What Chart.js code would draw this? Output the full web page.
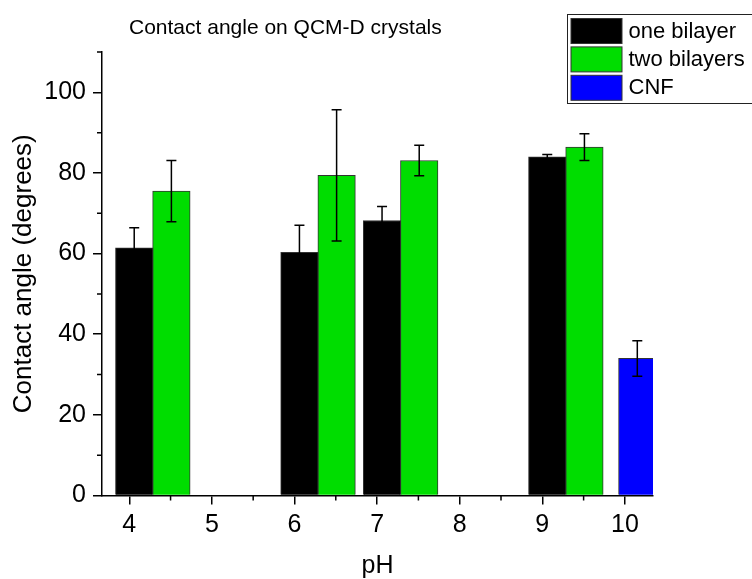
<!DOCTYPE html>
<html>
<head>
<meta charset="utf-8">
<script src="https://cdn.jsdelivr.net/npm/chart.js@4"></script>
<style>
  html, body { margin: 0; padding: 0; background: #fff; }
</style>
</head>
<body>
<canvas id="angleChart" width="752" height="579"></canvas>
<script>
// contact angle per pH, mean and standard deviation
const phOne = [4, 6, 7, 9];
const angleOne = [61.4, 60.3, 68.2, 84.0];
const errOne = [5.0, 6.7, 3.5, 0.6];

const phTwo = [4, 6, 7, 9];
const angleTwo = [75.5, 79.4, 83.1, 86.4];
const errTwo = [7.6, 16.3, 3.8, 3.3];

const phCnf = [10];
const angleCnf = [34.0];
const errCnf = [4.4];

const xTicks = [4, 5, 6, 7, 8, 9, 10];
const yTicks = [0, 20, 40, 60, 80, 100];

const FONT = 'Arial, "Liberation Sans", sans-serif';

// columns sit a little right of their pH value, second column next to the first
function toPoints(ph, vals, shift) {
  return ph.map((p, i) => ({ x: p + shift, y: vals[i] }));
}

const errorBars = {
  id: 'errorBars',
  afterDatasetsDraw(chart) {
    const ctx = chart.ctx;
    const ys = chart.scales.y;
    ctx.save();
    ctx.strokeStyle = '#000';
    ctx.lineWidth = 1.5;
    chart.data.datasets.forEach((ds, i) => {
      chart.getDatasetMeta(i).data.forEach((bar, j) => {
        const v = ds.data[j].y, e = ds.errors[j];
        const top = ys.getPixelForValue(v + e);
        const bot = ys.getPixelForValue(v - e);
        const x = bar.x;
        ctx.beginPath();
        ctx.moveTo(x, top); ctx.lineTo(x, bot);
        ctx.moveTo(x - 5, top); ctx.lineTo(x + 5, top);
        ctx.moveTo(x - 5, bot); ctx.lineTo(x + 5, bot);
        ctx.stroke();
      });
    });
    ctx.restore();
  }
};

const extras = {
  id: 'extras',
  afterDraw(chart) {
    const ctx = chart.ctx;
    const xs = chart.scales.x, ys = chart.scales.y;
    const area = chart.chartArea;
    ctx.save();

    // minor ticks
    ctx.strokeStyle = '#000';
    ctx.lineWidth = 1.5;
    ctx.beginPath();
    [10, 30, 50, 70, 90, 110].forEach(v => {
      const py = ys.getPixelForValue(v);
      ctx.moveTo(area.left - 5, py); ctx.lineTo(area.left, py);
    });
    [4.5, 5.5, 6.5, 7.5, 8.5, 9.5].forEach(v => {
      const px = xs.getPixelForValue(v);
      ctx.moveTo(px, area.bottom); ctx.lineTo(px, area.bottom + 5);
    });
    ctx.stroke();

    // title
    ctx.fillStyle = '#000';
    ctx.font = '21px ' + FONT;
    ctx.textBaseline = 'middle';
    ctx.textAlign = 'left';
    ctx.fillText('Contact angle on QCM-D crystals', 129, 28);

    // legend box
    const lx = 567.5, ly = 14.5, rowH = 28.4;
    ctx.strokeStyle = '#222';
    ctx.lineWidth = 1;
    ctx.strokeRect(lx, ly, 200, 89);
    ctx.font = '22px ' + FONT;
    chart.data.datasets.forEach((ds, i) => {
      const ry = ly + 4 + i * rowH;
      ctx.fillStyle = ds.backgroundColor;
      ctx.fillRect(lx + 3.5, ry, 51, 25);
      ctx.strokeStyle = '#333';
      ctx.strokeRect(lx + 3.5, ry, 51, 25);
      ctx.fillStyle = '#000';
      ctx.fillText(ds.label, lx + 61, ry + 13);
    });
    ctx.restore();
  }
};

new Chart(document.getElementById('angleChart'), {
  type: 'bar',
  data: {
    datasets: [
      { label: 'one bilayer', data: toPoints(phOne, angleOne, 0.06), errors: errOne,
        backgroundColor: '#000000', borderColor: '#333333' },
      { label: 'two bilayers', data: toPoints(phTwo, angleTwo, 0.51), errors: errTwo,
        backgroundColor: '#00dd00', borderColor: '#333333' },
      { label: 'CNF', data: toPoints(phCnf, angleCnf, 0.15), errors: errCnf,
        backgroundColor: '#0000ff', borderColor: '#333333' }
    ]
  },
  options: {
    responsive: false,
    animation: false,
    layout: { padding: { top: 52, right: 99, left: 0, bottom: 0 } },
    datasets: { bar: { grouped: false, barThickness: 37.5, borderWidth: 1 } },
    plugins: { legend: { display: false }, title: { display: false }, tooltip: { enabled: false } },
    scales: {
      x: {
        type: 'linear',
        min: 3.67, max: 10.34,
        offset: false,
        afterFit: s => { s.height = 83.5; },
        afterBuildTicks: s => { s.ticks = xTicks.map(v => ({ value: v })); },
        grid: { drawOnChartArea: false, offset: false, color: '#000', lineWidth: 1.5, tickLength: 9 },
        border: { color: '#000', width: 1.5 },
        ticks: { color: '#000', padding: 6, maxRotation: 0, font: { family: FONT, size: 25 } },
        title: { display: true, text: 'pH', color: '#000',
                 font: { family: FONT, size: 25, lineHeight: 1 }, padding: { top: 0, bottom: 0 } }
      },
      y: {
        min: 0, max: 110,
        afterFit: s => { s.width = 102; },
        afterBuildTicks: s => { s.ticks = yTicks.map(v => ({ value: v })); },
        grid: { drawOnChartArea: false, color: '#000', lineWidth: 1.5, tickLength: 9 },
        border: { color: '#000', width: 1.5 },
        ticks: { color: '#000', padding: 7, font: { family: FONT, size: 25 } },
        title: { display: true, text: 'Contact angle (degrees)', color: '#000',
                 font: { family: FONT, size: 26, lineHeight: 1.2 }, padding: { top: 8, bottom: 0 } }
      }
    }
  },
  plugins: [errorBars, extras]
});
</script>
</body>
</html>
